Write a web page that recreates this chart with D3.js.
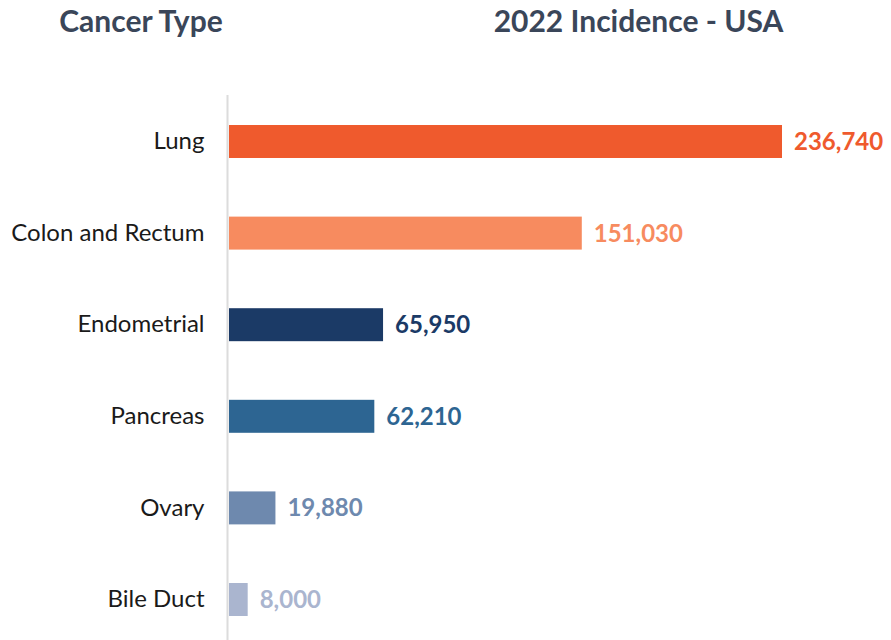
<!DOCTYPE html>
<html>
<head>
<meta charset="utf-8">
<script src="https://cdn.jsdelivr.net/npm/d3@7/dist/d3.min.js"></script>
<style>
  html, body { margin: 0; padding: 0; background: #fff; }
  svg { display: block; font-family: Lato, "Open Sans", sans-serif; }
</style>
</head>
<body>
<svg id="chart" width="891" height="640"></svg>
<script>
const categories = ["Lung", "Colon and Rectum", "Endometrial", "Pancreas", "Ovary", "Bile Duct"];
const incidence = [236740, 151030, 65950, 62210, 19880, 8000];
const barColors = ["#ef5a2d", "#f78b5f", "#1b3a66", "#2d6592", "#6e89ae", "#aab5cf"];
const headers = ["Cancer Type", "2022 Incidence - USA"];

const data = categories.map((c, i) => ({ name: c, value: incidence[i], color: barColors[i] }));

const svg = d3.select("#chart");

const x = d3.scaleLinear().domain([0, d3.max(incidence)]).range([229, 782]);
const y = d3.scaleBand().domain(categories).range([95.7, 645.3]).paddingInner(0.64).paddingOuter(0.32);

// headers
svg.append("text").attr("x", 141).attr("y", 32).attr("text-anchor", "middle")
  .attr("font-size", 30).attr("font-weight", 700).attr("fill", "#3a4659").text(headers[0]);
svg.append("text").attr("x", 638.5).attr("y", 32).attr("text-anchor", "middle")
  .attr("font-size", 30).attr("font-weight", 700).attr("fill", "#3a4659").text(headers[1]);

// bars
svg.append("g").selectAll("rect").data(data).join("rect")
  .attr("x", x(0))
  .attr("y", d => y(d.name))
  .attr("width", d => x(d.value) - x(0))
  .attr("height", y.bandwidth())
  .attr("fill", d => d.color);

// axis line
const axis = svg.append("g").attr("transform", "translate(227.5,0)")
  .call(d3.axisLeft(y).tickSize(0).tickPadding(23));
axis.select(".domain").attr("stroke", "#dcdcdc").attr("stroke-width", 2)
  .attr("d", "M0,95V640");
axis.selectAll(".tick text")
  .attr("font-family", "Lato, sans-serif")
  .attr("font-size", 24)
  .attr("fill", "#1a1a1a");

// value labels
const fmt = d3.format(",");
svg.append("g").selectAll("text").data(data).join("text")
  .attr("x", d => x(d.value) + 12)
  .attr("y", d => y(d.name) + y.bandwidth() / 2)
  .attr("dy", "0.35em")
  .attr("font-size", 24)
  .attr("font-weight", 700)
  .attr("fill", d => d.color)
  .text(d => fmt(d.value));
</script>
</body>
</html>
